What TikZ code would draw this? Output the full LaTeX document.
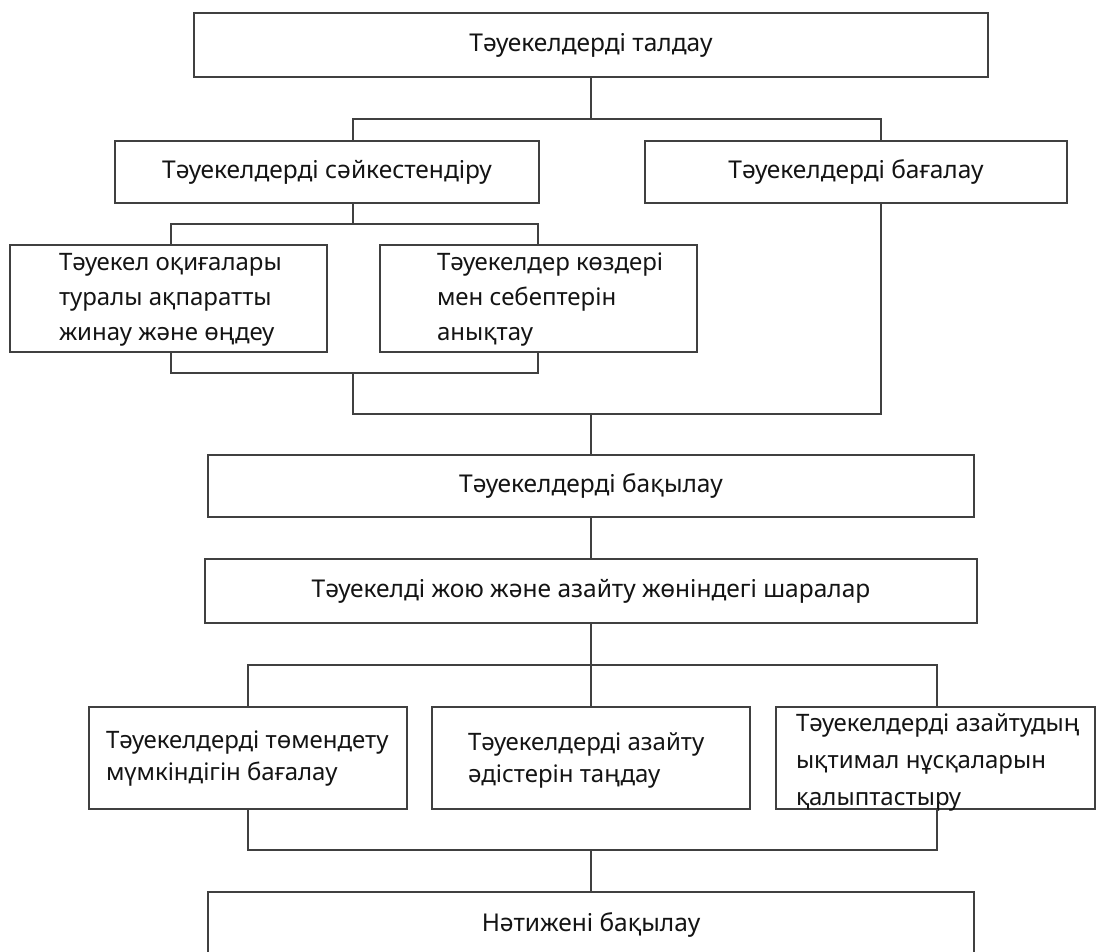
\documentclass[tikz,border=0pt]{standalone}
\usepackage{fontspec}
\setmainfont{Noto Sans}
\usetikzlibrary{calc}
\begin{document}
\begin{tikzpicture}[x=1pt,y=-1pt,
  box/.style={draw=black!75, line width=1.3pt, inner sep=0pt, outer sep=0pt,
    text=black!92, font=\fontsize{24.5}{35}\selectfont},
  txt/.style={inner sep=0pt, outer sep=0pt, anchor=west, align=left, text=black!92},
  link/.style={draw=black!75, line width=1.3pt}]
\clip (0,0) rectangle (1097,952);
\fill[white] (0,0) rectangle (1097,952);

% boxes
\node[box, minimum width=794, minimum height=64] (b1) at (591,45) {Тәуекелдерді талдау};
\node[box, minimum width=424, minimum height=62] (b2) at (327,172) {Тәуекелдерді сәйкестендіру};
\node[box, minimum width=422, minimum height=62] (b3) at (856,172) {Тәуекелдерді бағалау};
\node[box, minimum width=317, minimum height=107] (b4) at (168.5,298.5) {};
\node[box, minimum width=317, minimum height=107] (b5) at (538.5,298.5) {};
\node[box, minimum width=766, minimum height=62] (b6) at (591,486) {Тәуекелдерді бақылау};
\node[box, minimum width=772, minimum height=64] (b7) at (591,591) {Тәуекелді жою және азайту жөніндегі шаралар};
\node[box, minimum width=318, minimum height=102] (b8) at (248,758) {};
\node[box, minimum width=318, minimum height=102] (b9) at (591,758) {};
\node[box, minimum width=319, minimum height=102] (b10) at (935.5,758) {};
\node[box, minimum width=766, minimum height=66] (b11) at (591,925) {Нәтижені бақылау};

% multi-line texts
\node[txt, font=\fontsize{24}{35}\selectfont] (t4) at (59,300) {Тәуекел оқиғалары\\туралы ақпаратты\\жинау және өңдеу};
\node[txt, font=\fontsize{24}{35}\selectfont] (t5) at (437,300) {Тәуекелдер көздері\\мен себептерін\\анықтау};
\node[txt, font=\fontsize{24}{32}\selectfont] (t8) at (106,759) {Тәуекелдерді төмендету\\мүмкіндігін бағалау};
\node[txt, font=\fontsize{24}{32}\selectfont] (t9) at (468,760) {Тәуекелдерді азайту\\әдістерін таңдау};
\node[txt, font=\fontsize{24}{37}\selectfont] (t10) at (796,762) {Тәуекелдерді азайтудың\\ықтимал нұсқаларын\\қалыптастыру};

% junction points
\coordinate (j1) at (591,119);
\coordinate (b2t) at (353,141);
\coordinate (b3t) at (881,141);
\coordinate (b2b) at (353,203);
\coordinate (b3b) at (881,203);
\coordinate (j2) at (353,224);
\coordinate (b4t) at (171,245);
\coordinate (b5t) at (538,245);
\coordinate (b4b) at (171,352);
\coordinate (b5b) at (538,352);
\coordinate (j3) at (353,373);
\coordinate (j4) at (591,414);
\coordinate (j5) at (591,665);
\coordinate (b8t) at (248,707);
\coordinate (b10t) at (937,707);
\coordinate (b8b) at (248,809);
\coordinate (b10b) at (937,809);
\coordinate (j6) at (591,850);

% connectors
\draw[link] (b1.south) -- (j1);
\draw[link] (b2t) |- (j1) -| (b3t);
\draw[link] (b2b) -- (j2);
\draw[link] (b4t) |- (j2) -| (b5t);
\draw[link] (b4b) |- (j3) -| (b5b);
\draw[link] (j3) |- (j4) -| (b3b);
\draw[link] (j4) -- (b6.north);
\draw[link] (b6.south) -- (b7.north);
\draw[link] (b7.south) -- (j5);
\draw[link] (b8t) |- (j5) -| (b10t);
\draw[link] (j5) -- (b9.north);
\draw[link] (b8b) |- (j6) -| (b10b);
\draw[link] (j6) -- (b11.north);
\end{tikzpicture}
\end{document}
